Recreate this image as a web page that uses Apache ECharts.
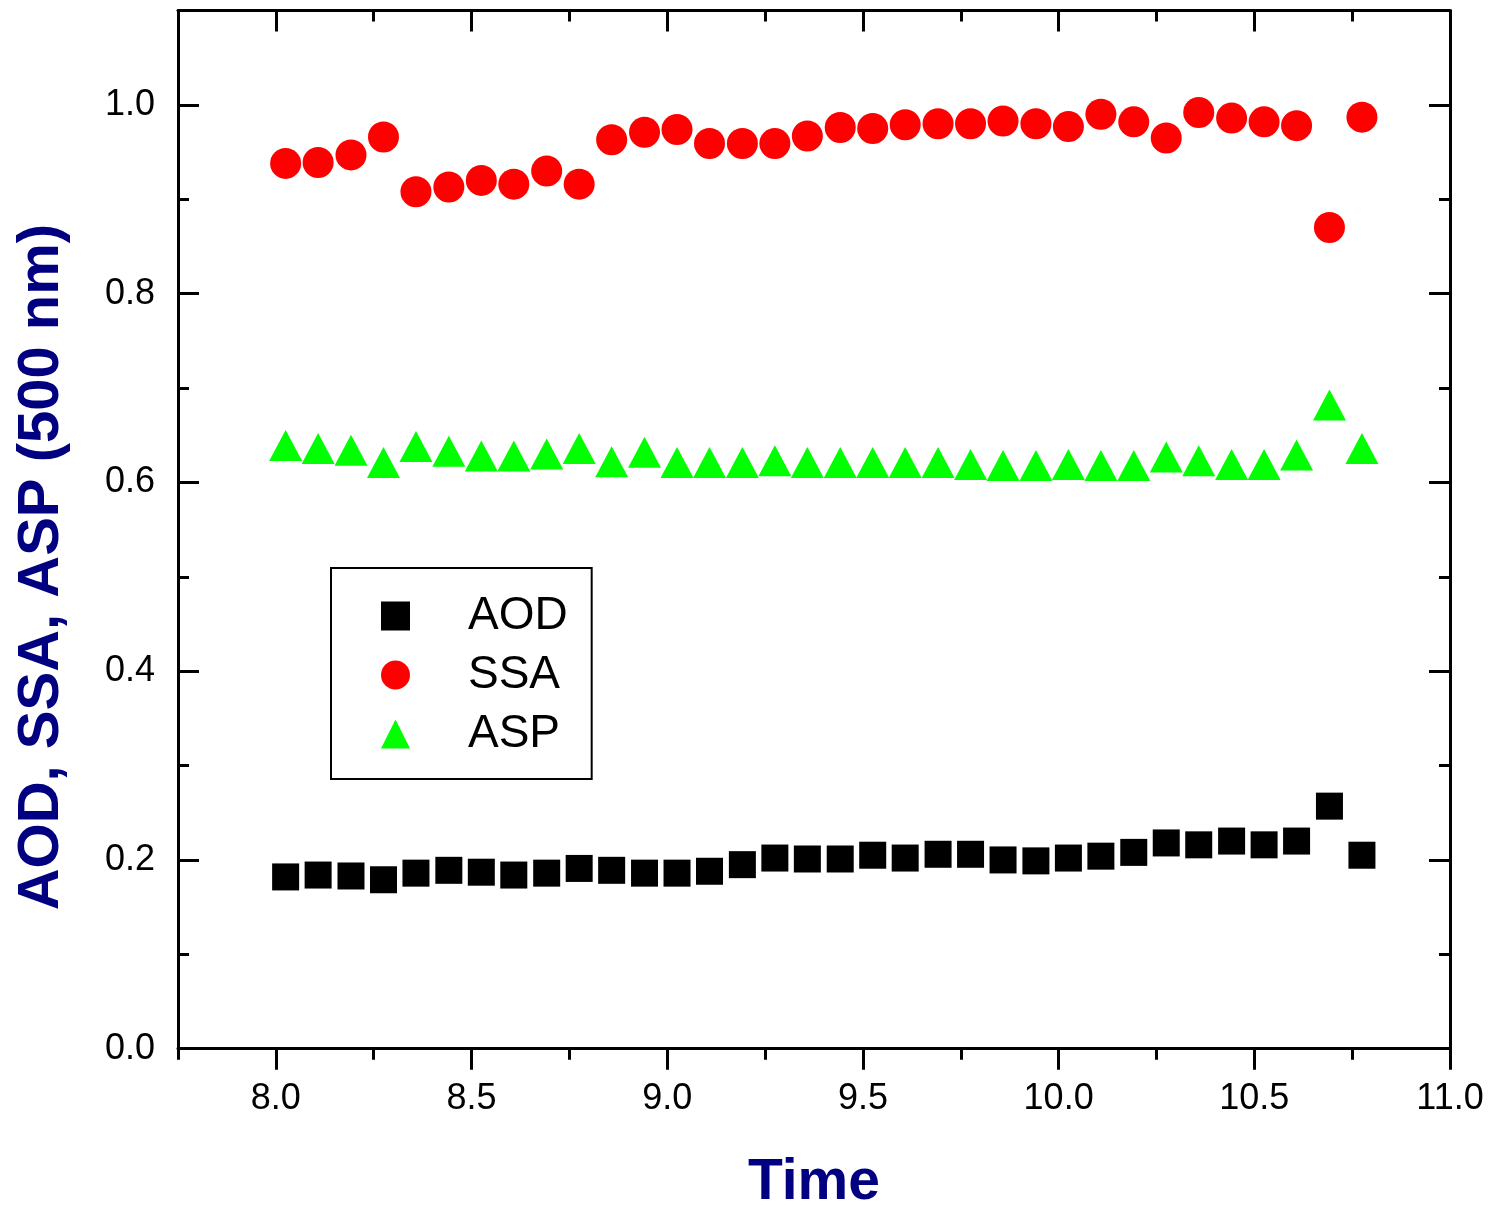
<!DOCTYPE html>
<html>
<head>
<meta charset="utf-8">
<title>AOD, SSA, ASP (500 nm)</title>
<script src="https://cdn.jsdelivr.net/npm/echarts@6/dist/echarts.min.js"></script>
<style>
    html, body { margin: 0; padding: 0; background: #fff; }
    #main { width: 1493px; height: 1205px; }
</style>
</head>
<body>
<div id="main"></div>
<script>
// time of day (hours) and the three retrieved quantities at 500 nm
var times = [8.025, 8.108, 8.192, 8.275, 8.358, 8.442, 8.525, 8.608, 8.692, 8.775,
    8.858, 8.942, 9.025, 9.108, 9.192, 9.275, 9.358, 9.442, 9.525, 9.608,
    9.692, 9.775, 9.858, 9.942, 10.025, 10.108, 10.192, 10.275, 10.358, 10.442,
    10.525, 10.608, 10.692, 10.775];
var aod = [0.182, 0.184, 0.183, 0.179, 0.186, 0.189, 0.187, 0.184, 0.186, 0.191,
    0.189, 0.186, 0.186, 0.188, 0.195, 0.202, 0.201, 0.201, 0.205, 0.202,
    0.206, 0.206, 0.200, 0.199, 0.202, 0.204, 0.208, 0.218, 0.216, 0.220,
    0.216, 0.220, 0.257, 0.205];
var ssa = [0.938, 0.939, 0.947, 0.966, 0.908, 0.913, 0.920, 0.916, 0.930, 0.916,
    0.963, 0.971, 0.974, 0.959, 0.959, 0.959, 0.967, 0.976, 0.975, 0.979,
    0.980, 0.980, 0.983, 0.980, 0.977, 0.990, 0.982, 0.965, 0.992, 0.986,
    0.982, 0.978, 0.870, 0.987];
var asp = [0.639, 0.636, 0.634, 0.621, 0.638, 0.633, 0.628, 0.628, 0.630, 0.636,
    0.622, 0.632, 0.621, 0.621, 0.621, 0.623, 0.621, 0.621, 0.621, 0.621,
    0.621, 0.619, 0.618, 0.618, 0.619, 0.618, 0.618, 0.627, 0.623, 0.619,
    0.619, 0.629, 0.682, 0.636];
var seriesNames = ['AOD', 'SSA', 'ASP'];
var xMinor = [7.75, 11, 0.25];   // min, max, step
var xMajor = [8, 11, 0.5];
var yMinor = [0, 1.1, 0.1];
var yMajor = [0, 1.1, 0.2];

var FONT = '"Liberation Sans", Arial, sans-serif';
var NAVY = '#000080';

var plot = {
    init: function () {
        this.chart = echarts.init(document.getElementById("main"));
        this.chart.setOption(this.option());
    },
    pairs: function (ys) {
        return times.map(function (t, i) {
            return [t, ys[i]];
        });
    },
    fmt: function (v) {
        return v.toFixed(1);
    },
    // one axis; ticks only, the line and labels are switched on where needed
    axis: function (grid, pos, range, tickLen, inside, line) {
        return {
            type: 'value',
            gridIndex: grid,
            position: pos,
            min: range[0],
            max: range[1],
            interval: range[2],
            axisLine: { show: line, onZero: false, lineStyle: { color: '#000', width: 3 } },
            axisTick: { show: true, inside: inside, length: tickLen, lineStyle: { color: '#000', width: 3 } },
            axisLabel: { show: false },
            splitLine: { show: false }
        };
    },
    scatter: function (name, symbol, size, color, ys) {
        return {
            name: name,
            type: 'scatter',
            xAxisIndex: 0,
            yAxisIndex: 0,
            symbol: symbol,
            symbolSize: size,
            itemStyle: { color: color, opacity: 1 },
            emphasis: { disabled: true },
            data: this.pairs(ys)
        };
    },
    option: function () {
        var self = this;
        var labelStyle = {
            show: true,
            fontSize: 36,
            fontFamily: FONT,
            color: '#000',
            formatter: self.fmt
        };

        var x0 = this.axis(0, 'bottom', xMinor, 11, false, true);
        x0.name = 'Time';
        x0.nameLocation = 'middle';
        x0.nameGap = 106;
        x0.nameTextStyle = { fontSize: 57, fontWeight: 'bold', color: NAVY, fontFamily: FONT };
        var x1 = this.axis(1, 'bottom', xMajor, 21, false, false);
        x1.axisLabel = echarts.util.merge({ margin: 32, showMinLabel: true, showMaxLabel: true }, labelStyle);
        var x2 = this.axis(0, 'top', xMinor, 11, true, true);
        var x3 = this.axis(1, 'top', xMajor, 21, true, false);

        var y0 = this.axis(0, 'left', yMinor, 11, true, true);
        y0.name = 'AOD, SSA, ASP (500 nm)';
        y0.nameLocation = 'middle';
        y0.nameGap = 107;
        y0.nameTextStyle = {
            fontSize: 58, fontWeight: 'bold', color: NAVY, fontFamily: FONT,
            padding: [0, 75, 0, 0]
        };
        var y1 = this.axis(0, 'left', yMajor, 21, true, false);
        y1.axisLabel = echarts.util.merge({ margin: 23, showMinLabel: true, showMaxLabel: false }, labelStyle);
        var y2 = this.axis(0, 'right', yMinor, 11, true, true);
        var y3 = this.axis(0, 'right', yMajor, 21, true, false);
        var y4 = { type: 'value', gridIndex: 1, show: false, min: 0, max: 1.1 };

        return {
            backgroundColor: '#fff',
            animation: false,
            textStyle: { fontFamily: FONT },
            grid: [
                { left: 178, right: 43, top: 10.5, bottom: 156.3, containLabel: false, outerBoundsMode: 'none' },
                { left: 275.85, right: 43, top: 10.5, bottom: 156.3, containLabel: false, outerBoundsMode: 'none' }
            ],
            xAxis: [x0, x1, x2, x3],
            yAxis: [y0, y1, y2, y3, y4],
            legend: {
                data: seriesNames,
                orient: 'vertical',
                left: 331,
                top: 568,
                itemWidth: 29,
                itemHeight: 29,
                itemGap: 13,
                padding: [25, 24, 22, 50],
                borderColor: '#000',
                borderWidth: 2,
                selectedMode: false,
                textStyle: { fontSize: 46, fontFamily: FONT, color: '#000', padding: [0, 0, 0, 53] }
            },
            series: [
                self.scatter('AOD', 'rect', 27, '#000000', aod),
                self.scatter('SSA', 'circle', 31, '#ff0000', ssa),
                self.scatter('ASP', 'triangle', [33, 31], '#00ff00', asp)
            ]
        };
    }
};

plot.init();
</script>
</body>
</html>
